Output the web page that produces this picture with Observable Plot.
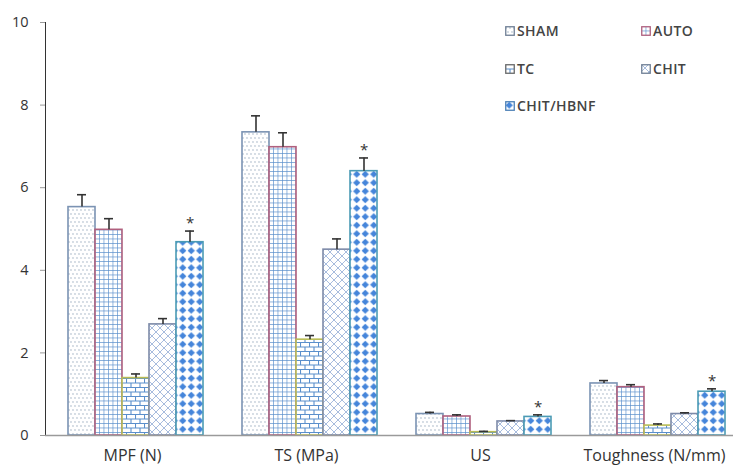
<!DOCTYPE html>
<html>
<head>
<meta charset="utf-8">
<script src="https://cdn.jsdelivr.net/npm/d3@7"></script>
<script src="https://cdn.jsdelivr.net/npm/@observablehq/plot@0.6"></script>
<style>
  html, body { margin: 0; padding: 0; background: #fff; }
  #wrap { position: relative; width: 733px; height: 472px; font-family: "Open Sans", sans-serif; overflow: hidden; }
  #chart svg { display: block; }
  #chart g[aria-label^="y-axis"] path,
  #chart g[aria-label^="y-axis"] line { stroke: #9a9a9a; }
  #chart g[aria-label^="y-axis"] text { font-size: 14.5px; fill: #333; }
  #chart g[aria-label^="fx-axis"] text { font-size: 16px; fill: #333; }
  #legend .item { position: absolute; display: flex; align-items: center; font-size: 14px; font-weight: 600; color: #444; letter-spacing: 0.4px; line-height: 1; }
  #legend .item svg { margin-right: 2px; }
</style>
</head>
<body>
<svg width="0" height="0" style="position:absolute">
  <defs>
    <pattern id="pSham" patternUnits="userSpaceOnUse" width="4" height="8">
      <rect width="4" height="8" fill="#fff"/>
      <circle cx="1" cy="2" r="0.65" fill="#8fa2b8"/>
      <circle cx="3" cy="6" r="0.65" fill="#8fa2b8"/>
    </pattern>
    <pattern id="pAuto" patternUnits="userSpaceOnUse" width="4.5" height="4.5">
      <rect width="4.5" height="4.5" fill="#fff"/>
      <path d="M0,0H4.5M0,0V4.5" stroke="#5a8fcc" stroke-width="1.3"/>
    </pattern>
    <pattern id="pTc" patternUnits="userSpaceOnUse" width="9" height="9">
      <rect width="9" height="9" fill="#fff"/>
      <path d="M0,0.5H9M0,5H9M0.5,0.5V5M5,5V9" stroke="#5a8fcc" stroke-width="1.1"/>
    </pattern>
    <pattern id="pChit" patternUnits="userSpaceOnUse" width="8" height="8">
      <rect width="8" height="8" fill="#fff"/>
      <path d="M0,0L8,8M8,0L0,8" stroke="#9db4da" stroke-width="0.9"/>
    </pattern>
    <pattern id="pHbnf" patternUnits="userSpaceOnUse" width="8.5" height="8.5">
      <rect width="8.5" height="8.5" fill="#fff"/>
      <path d="M4.25,0.6L7.9,4.25L4.25,7.9L0.6,4.25Z" fill="#4585da"/>
    </pattern>
  </defs>
</svg>
<div id="wrap">
  <div id="chart"></div>
  <div id="legend"></div>
</div>
<script>
const categories = ["MPF (N)", "TS (MPa)", "US", "Toughness (N/mm)"];
const groups = ["SHAM", "AUTO", "TC", "CHIT", "CHIT/HBNF"];
const shamValues = [5.53, 7.34, 0.52, 1.26];
const autoValues = [4.98, 6.98, 0.46, 1.17];
const tcValues   = [1.39, 2.32, 0.08, 0.24];
const chitValues = [2.69, 4.50, 0.34, 0.52];
const hbnfValues = [4.68, 6.40, 0.45, 1.06];
const shamErr = [0.30, 0.40, 0.04, 0.07];
const autoErr = [0.27, 0.35, 0.04, 0.06];
const tcErr   = [0.10, 0.10, 0.02, 0.04];
const chitErr = [0.14, 0.26, 0.02, 0.03];
const hbnfErr = [0.27, 0.32, 0.05, 0.07];
const starred = ["CHIT/HBNF"];
const yTicks = [0, 2, 4, 6, 8, 10];

const seriesValues = [shamValues, autoValues, tcValues, chitValues, hbnfValues];
const seriesErr = [shamErr, autoErr, tcErr, chitErr, hbnfErr];
const patterns = ["url(#pSham)", "url(#pAuto)", "url(#pTc)", "url(#pChit)", "url(#pHbnf)"];
const borders = ["#7b93b3", "#b0607e", "#b9bc55", "#7d8aa8", "#4b9bb5"];
const legendBorders = ["#6f7f95", "#b0607e", "#6a6a6a", "#6f7f95", "#4b7fb5"];

const data = [];
categories.forEach((cat, i) => {
  groups.forEach((grp, j) => {
    data.push({cat, grp, value: seriesValues[j][i], err: seriesErr[j][i], star: starred.includes(grp)});
  });
});

const barMarks = groups.map((g, j) =>
  Plot.barY(data, {
    filter: d => d.grp === g,
    x: "grp", y: "value",
    fill: patterns[j], stroke: borders[j], strokeWidth: 1.6
  })
);

const chart = Plot.plot({
  width: 733,
  height: 472,
  marginLeft: 45,
  marginRight: -8,
  marginTop: 22,
  marginBottom: 37,
  style: {fontFamily: "Open Sans, sans-serif", fontSize: "14px", color: "#333", background: "#fff"},
  facet: {data, x: "cat"},
  fx: {domain: categories, padding: 0, label: null, tickSize: 0, tickPadding: 14},
  x: {domain: groups, paddingInner: 0, paddingOuter: 0.722, align: 0.58, axis: null},
  y: {domain: [0, 10], ticks: yTicks, tickFormat: d => String(d), label: null, line: true, tickSize: 5, tickPadding: 12},
  marks: [
    ...barMarks,
    Plot.ruleX(data, {x: "grp", y1: "value", y2: d => d.value + d.err, stroke: "#333", strokeWidth: 1.6}),
    Plot.tickY(data, {x: "grp", y: d => d.value + d.err, insetLeft: 9, insetRight: 9, stroke: "#333", strokeWidth: 1.6}),
    Plot.text(data, {filter: d => d.star, x: "grp", y: d => d.value + d.err, text: () => "*", dy: -8, fontSize: 15, fill: "#333"}),
    Plot.ruleY([0], {stroke: "#9a9a9a", strokeWidth: 1.5})
  ]
});
document.getElementById("chart").appendChild(chart);

// Legend
const legendPos = [[505, 24], [641, 24], [505, 62], [641, 62], [505, 99]];
const legend = document.getElementById("legend");
groups.forEach((g, j) => {
  const item = document.createElement("div");
  item.className = "item";
  item.style.left = legendPos[j][0] + "px";
  item.style.top = legendPos[j][1] + "px";
  item.innerHTML = `<svg width="10" height="10"><rect x="0.75" y="0.75" width="8.5" height="8.5" fill="${patterns[j]}" stroke="${legendBorders[j]}" stroke-width="1.3"/></svg><span>${g}</span>`;
  legend.appendChild(item);
});
</script>
</body>
</html>
